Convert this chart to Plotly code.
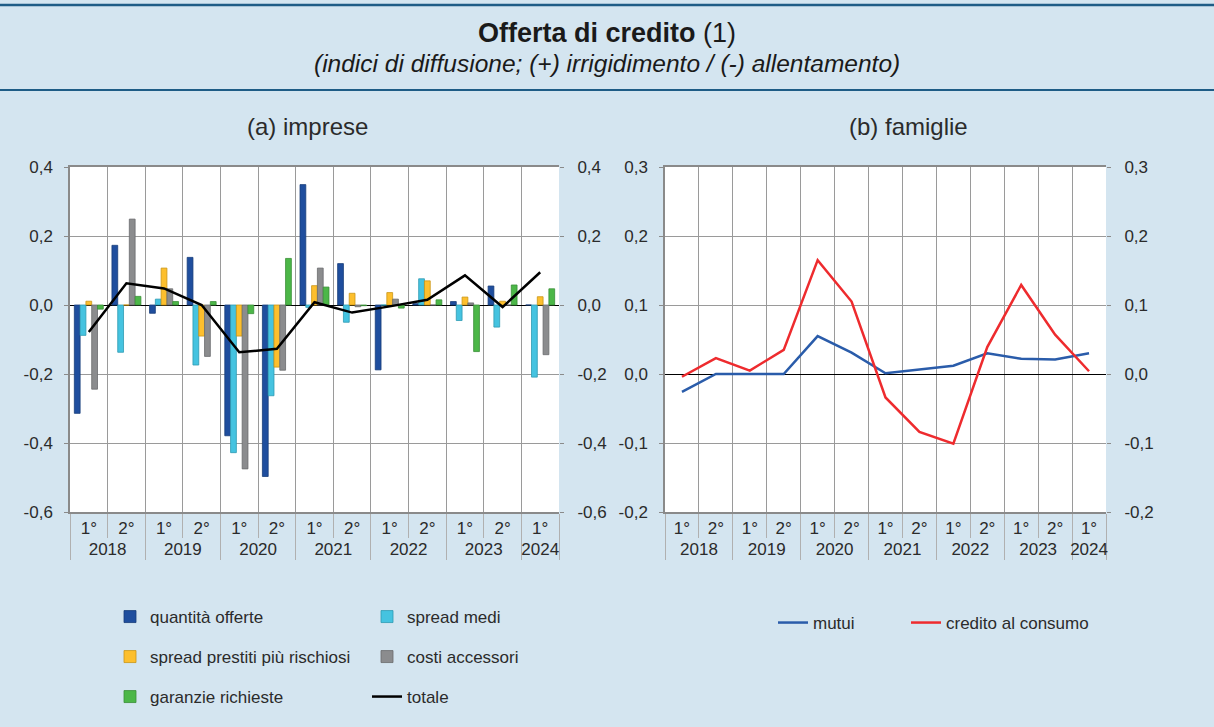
import plotly.graph_objects as go

# categories (semesters)
years = ["2018", "2018", "2019", "2019", "2020", "2020", "2021", "2021",
         "2022", "2022", "2023", "2023", "2024"]
halves = ["1°", "2°", "1°", "2°", "1°", "2°", "1°", "2°", "1°", "2°", "1°", "2°", "1°"]

# (a) imprese
quantita = [-0.314, 0.173, -0.024, 0.138, -0.379, -0.497, 0.349, 0.120, -0.188, 0.004, 0.010, 0.055, 0.0]
spread_medi = [-0.088, -0.137, 0.017, -0.174, -0.428, -0.263, -0.007, -0.050, 0.0, 0.076, -0.045, -0.064, -0.209]
spread_risch = [0.011, 0.0, 0.107, -0.090, -0.090, -0.180, 0.056, 0.034, 0.036, 0.070, 0.023, 0.011, 0.024]
costi = [-0.244, 0.249, 0.047, -0.149, -0.475, -0.189, 0.107, -0.005, 0.017, 0.0, 0.006, 0.0, -0.144]
garanzie = [-0.012, 0.025, 0.010, 0.010, -0.025, 0.135, 0.052, -0.002, -0.009, 0.015, -0.135, 0.058, 0.047]
totale = [-0.078, 0.063, 0.048, 0.0, -0.137, -0.127, 0.008, -0.022, -0.004, 0.015, 0.086, -0.006, 0.095]

# (b) famiglie
mutui = [-0.026, 0.0, 0.0, 0.0, 0.055, 0.031, 0.001, 0.006, 0.012, 0.030, 0.022, 0.021, 0.030]
credito_consumo = [-0.004, 0.023, 0.005, 0.035, 0.165, 0.105, -0.034, -0.084, -0.101, 0.039, 0.129, 0.057, 0.004]

left_ticks = [-0.6, -0.4, -0.2, 0.0, 0.2, 0.4]
left_labels = ["-0,6", "-0,4", "-0,2", "0,0", "0,2", "0,4"]
right_ticks = [-0.2, -0.1, 0.0, 0.1, 0.2, 0.3]
right_labels = ["-0,2", "-0,1", "0,0", "0,1", "0,2", "0,3"]

FONT = "Liberation Sans, Arial, sans-serif"
TXT = "#2b2b2b"
BG = "#d4e5f0"
x = [years, halves]
xrange = [-0.5, len(halves) - 0.5]

fig = go.Figure()

bars = [
    ("quantità offerte", quantita, "#1f4e9e", "#183d7a", "legend"),
    ("spread medi", spread_medi, "#45c3e0", "#2f9ab3", "legend"),
    ("spread prestiti più rischiosi", spread_risch, "#fdbf2d", "#c99516", "legend2"),
    ("costi accessori", costi, "#8b8c8e", "#6a6b6d", "legend2"),
    ("garanzie richieste", garanzie, "#4cb748", "#3a8f37", "legend3"),
]
for name, vals, col, edge, leg in bars:
    fig.add_trace(go.Bar(x=x, y=vals, name=name, marker=dict(color=col, line=dict(color=edge, width=0.8)),
                         legend=leg, xaxis="x", yaxis="y"))

fig.add_trace(go.Scatter(x=x, y=totale, name="totale", mode="lines",
                         line=dict(color="black", width=2.5), legend="legend3", xaxis="x", yaxis="y"))

fig.add_trace(go.Scatter(x=x, y=mutui, name="mutui", mode="lines",
                         line=dict(color="#2a5caa", width=2.5), legend="legend4", xaxis="x3", yaxis="y3"))
fig.add_trace(go.Scatter(x=x, y=credito_consumo, name="credito al consumo", mode="lines",
                         line=dict(color="#ee2b2e", width=2.5), legend="legend5", xaxis="x3", yaxis="y3"))

W, H = 1214, 727
def px(v):
    return v / W
def py(v):
    return 1 - v / H

TF = dict(size=17, color=TXT, family=FONT)
xcommon = dict(type="multicategory", range=xrange, tickson="boundaries", showgrid=True, gridcolor="#9a9a9a",
               gridwidth=1, showline=True, linecolor="#8a8a8a", linewidth=1.5, mirror=True,
               ticks="outside", ticklen=24, tickcolor="#b0b0b0",
               showdividers=True, dividercolor="#b0b0b0", dividerwidth=1,
               tickfont=TF, automargin=False)
ycommon = dict(showgrid=True, gridcolor="#9a9a9a", gridwidth=1, zeroline=True, zerolinecolor="black",
               zerolinewidth=1.2, showline=True, linecolor="#8a8a8a", linewidth=1.5,
               ticks="outside", ticklen=4, tickcolor="#8a8a8a", tickfont=TF, automargin=False)
y2common = dict(side="right", showgrid=False, zeroline=False, ticks="outside", ticklen=4, tickcolor="#8a8a8a",
                ticklabelstandoff=10, tickfont=TF, automargin=False)

fig.update_layout(
    width=W, height=H,
    margin=dict(l=0, r=0, t=0, b=0, autoexpand=False),
    paper_bgcolor=BG, plot_bgcolor="white",
    barmode="group", bargap=0.23, bargroupgap=0.0,
    font=dict(family=FONT, size=17, color=TXT),
    xaxis=dict(domain=[px(70), px(559)], anchor="y", **xcommon),
    yaxis=dict(domain=[py(512), py(167)], anchor="x", range=[-0.6, 0.4],
               tickvals=left_ticks, ticktext=left_labels, ticklabelstandoff=8, **ycommon),
    yaxis2=dict(overlaying="y", anchor="x", range=[-0.6, 0.4],
                tickvals=left_ticks, ticktext=left_labels, **y2common),
    xaxis3=dict(domain=[px(665), px(1106)], anchor="y3", **xcommon),
    yaxis3=dict(domain=[py(512), py(167)], anchor="x3", range=[-0.2, 0.3],
                tickvals=right_ticks, ticktext=right_labels, ticklabelstandoff=8, **ycommon),
    yaxis4=dict(overlaying="y3", anchor="x3", range=[-0.2, 0.3],
                tickvals=right_ticks, ticktext=right_labels, **y2common),
)

# empty traces so the right-hand axes get drawn
fig.add_trace(go.Scatter(x=x, y=[None] * len(halves), xaxis="x", yaxis="y2", showlegend=False, hoverinfo="skip"))
fig.add_trace(go.Scatter(x=x, y=[None] * len(halves), xaxis="x3", yaxis="y4", showlegend=False, hoverinfo="skip"))

legfont = dict(size=17, color=TXT, family=FONT)
leg = dict(orientation="h", bgcolor="rgba(0,0,0,0)", font=legfont, entrywidth=212, entrywidthmode="pixels",
           xanchor="left", yanchor="middle", itemwidth=30, traceorder="normal")
leg1 = dict(orientation="h", bgcolor="rgba(0,0,0,0)", font=legfont,
            xanchor="left", yanchor="middle", itemwidth=30)
fig.update_layout(
    legend=dict(x=px(110), y=py(617), **leg),
    legend2=dict(x=px(110), y=py(657), **leg),
    legend3=dict(x=px(110), y=py(697), **leg),
    legend4=dict(x=px(773), y=py(623), **leg1),
    legend5=dict(x=px(906), y=py(623), **leg1),
)

fig.add_shape(type="line", xref="paper", yref="paper", x0=0, x1=1, y0=py(5), y1=py(5),
              line=dict(color="#1e5c86", width=2.5))
fig.add_shape(type="line", xref="paper", yref="paper", x0=0, x1=1, y0=py(90), y1=py(90),
              line=dict(color="#1e5c86", width=2))

ann = dict(xref="paper", yref="paper", showarrow=False, xanchor="center", yanchor="middle")
fig.add_annotation(text="<b>Offerta di credito</b> (1)", x=0.5, y=py(33),
                   font=dict(size=27, color="#1a1a1a", family=FONT), **ann)
fig.add_annotation(text="<i>(indici di diffusione; (+) irrigidimento / (-) allentamento)</i>", x=0.5, y=py(64),
                   font=dict(size=24.5, color="#1a1a1a", family=FONT), **ann)
fig.add_annotation(text="(a) imprese", x=px(307), y=py(127), font=dict(size=24, color=TXT, family=FONT), **ann)
fig.add_annotation(text="(b) famiglie", x=px(908), y=py(127), font=dict(size=24, color=TXT, family=FONT), **ann)

fig.write_html("out.html", config={"displayModeBar": False},
               post_script="document.body.style.margin='0';document.body.style.overflow='hidden';")
